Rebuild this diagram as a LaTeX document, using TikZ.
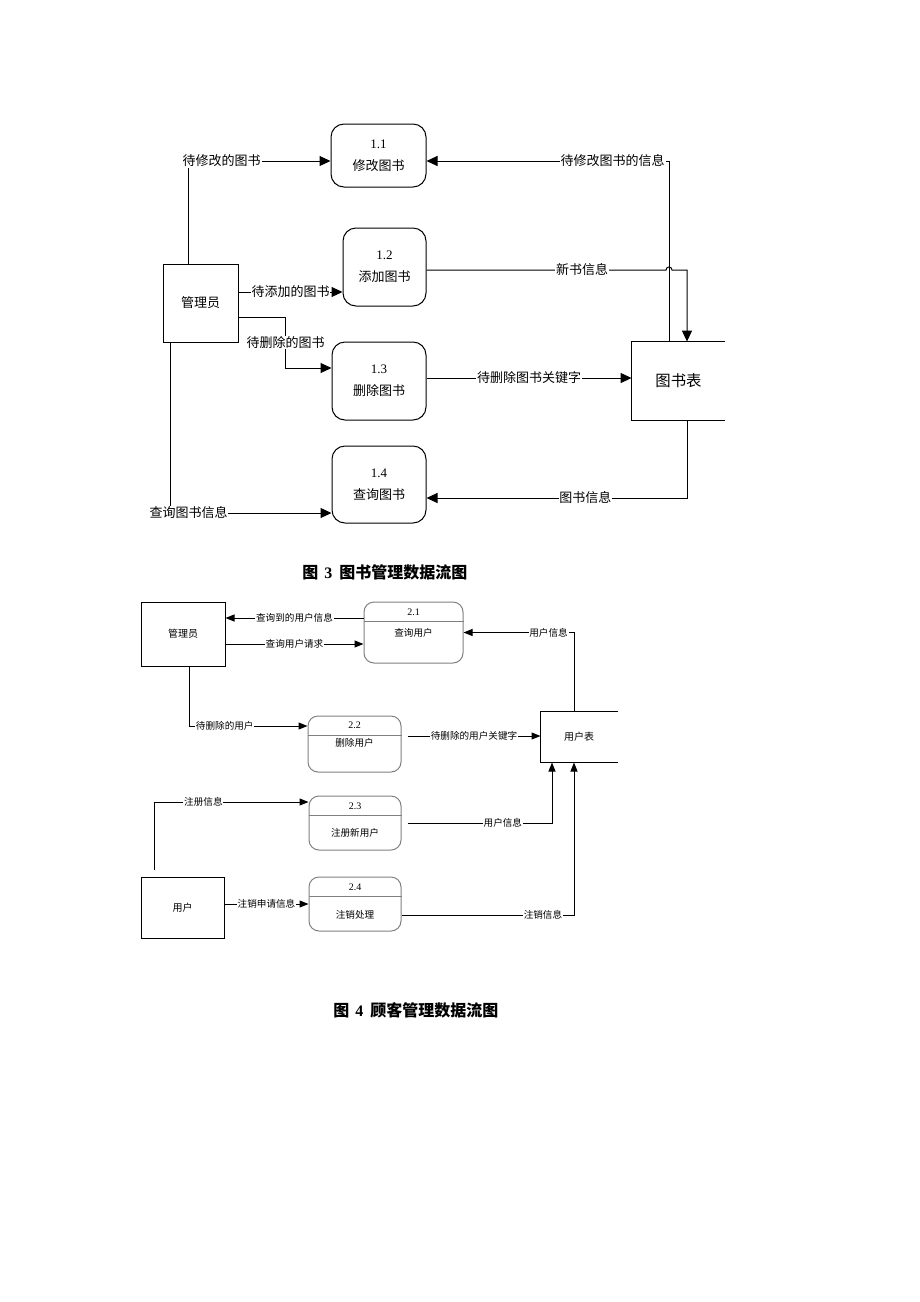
\documentclass[tikz,border=0pt]{standalone}
\usepackage{fontspec}
\setmainfont{Liberation Serif}
\newfontfamily\cjk{Noto Sans CJK SC}
\usetikzlibrary{arrows.meta,positioning,calc}

\begin{document}
\begin{tikzpicture}[x=0.5pt, y=-0.5pt,
    proc/.style={rectangle, draw, rounded corners=6.5pt, line width=0.5pt, minimum width=47pt, minimum height=39pt, inner sep=0pt, align=center, font=\cjk\fontsize{6.5}{11}\selectfont},
    entity/.style={rectangle, draw, line width=0.5pt, minimum width=37.5pt, minimum height=39pt, inner sep=0pt, font=\cjk\fontsize{6.5}{8}\selectfont},
    datastore/.style={rectangle, minimum width=46.5pt, minimum height=39pt, inner sep=0pt, font=\cjk\fontsize{7.7}{9}\selectfont},
    lbl/.style={fill=white, inner sep=0.4pt, font=\cjk\fontsize{6.5}{8}\selectfont},
    arrow/.style={line width=0.5pt, ->, >={Triangle[length=5.5pt, width=5pt]}},
    proctwo/.style={rectangle, draw=gray, rounded corners=5pt, line width=0.5pt, inner sep=0pt},
    entitytwo/.style={rectangle, draw, line width=0.5pt, inner sep=0pt, font=\cjk\fontsize{5}{6}\selectfont},
    numtxt/.style={inner sep=0pt, font=\fontsize{5}{6}\selectfont},
    boxtxt/.style={inner sep=0pt, font=\cjk\fontsize{4.8}{6}\selectfont},
    lbltwo/.style={fill=white, inner sep=0.4pt, font=\cjk\fontsize{4.8}{6}\selectfont},
    arrowtwo/.style={line width=0.5pt, ->, >={Triangle[length=4.5pt, width=3.5pt]}},
    figcap/.style={anchor=west, inner sep=0pt, font=\cjk\bfseries\fontsize{8}{10}\selectfont}]

    \useasboundingbox (0,0) rectangle (920,1302);

    % figure 3: books
    \node[proc, minimum width=47.5pt, minimum height=31.5pt] (p11) at (378.5,155.5) {{\rmfamily 1.1}\\修改图书};
    \node[proc, minimum width=41.5pt] (p12) at (384.5,267) {{\rmfamily 1.2}\\添加图书};
    \node[proc] (p13) at (379,381) {{\rmfamily 1.3}\\删除图书};
    \node[proc, minimum height=38.5pt] (p14) at (379,484.5) {{\rmfamily 1.4}\\查询图书};
    \node[entity] (admin) at (200.5,303) {管理员};
    \node[datastore] (books) at (678.5,381) {图书表};
    \draw[line width=0.5pt] (books.north east) -- (books.north west) -- (books.south west) -- (books.south east);
    \coordinate (hop) at (669,270);

    \draw[arrow] ([xshift=13pt]admin.north west) |- node[lbl, pos=0.617] {待修改的图书} ([yshift=-2.75pt]p11.west);
    \draw[arrow] ([yshift=5.5pt]admin.east) coordinate (a2) -- node[lbl] {待添加的图书} (a2 -| p12.west);
    \draw[arrow] ([yshift=-7pt]admin.east) -- ++(47,0) |- node[lbl, pos=0.25] {待删除的图书} ([yshift=6.5pt]p13.west);
    \draw[arrow] ([xshift=4pt]admin.south west) |- node[lbl, pos=0.556] {查询图书信息} ([yshift=-14.25pt]p14.west);
    \draw[arrow] ([xshift=-4.75pt]books.north) |- node[lbl, pos=0.616] {待修改图书的信息} ([yshift=-2.75pt]p11.east);
    \draw[arrow] ([yshift=-1.5pt]p12.east) -- node[lbl, pos=0.65] {新书信息} ([xshift=-1.5pt]hop)
        .. controls ([xshift=-1.5pt, yshift=2pt]hop) and ([xshift=1.5pt, yshift=2pt]hop) .. ([xshift=1.5pt]hop)
        -| ([xshift=4.25pt]books.north);
    \draw[arrow] ([yshift=1.5pt]p13.east) coordinate (d1) -- node[lbl] {待删除图书关键字} (d1 -| books.west);
    \draw[arrow] ([xshift=4.25pt]books.south) |- node[lbl, pos=0.695] {图书信息} ([yshift=-6.75pt]p14.east);

    \node[figcap] (cap3) at (302,572) {图\hspace{3pt}{\rmfamily 3}\hspace{3.5pt}图书管理数据流图};

    % figure 4: users
    \node[entitytwo, minimum width=42pt, minimum height=32pt] (admintwo) at (183,634) {管理员};
    \node[entitytwo, minimum width=41.5pt, minimum height=30.5pt] (user) at (182.5,907.5) {用户};
    \node[entitytwo, draw=none, minimum width=38pt, minimum height=25pt] (users) at (579,737) {用户表};
    \draw[line width=0.5pt] (users.north east) -- (users.north west) -- (users.south west) -- (users.south east);

    \node[proctwo, minimum width=49.5pt, minimum height=30.5pt] (q21) at (413.5,632.5) {};
    \draw[gray, line width=0.5pt] ([yshift=-10pt]q21.north west) -- ([yshift=-10pt]q21.north east);
    \node[numtxt] (n21) at ([yshift=-5.5pt]q21.north) {2.1};
    \node[boxtxt] (t21) at ([yshift=-15.5pt]q21.north) {查询用户};

    \node[proctwo, minimum width=46.5pt, minimum height=28pt] (q22) at (354.5,744) {};
    \draw[gray, line width=0.5pt] ([yshift=-10pt]q22.north west) -- ([yshift=-10pt]q22.north east);
    \node[numtxt] (n22) at ([yshift=-5pt]q22.north) {2.2};
    \node[boxtxt] (t22) at ([yshift=-13.5pt]q22.north) {删除用户};

    \node[proctwo, minimum width=46pt, minimum height=27pt] (q23) at (355,823) {};
    \draw[gray, line width=0.5pt] ([yshift=-10pt]q23.north west) -- ([yshift=-10pt]q23.north east);
    \node[numtxt] (n23) at ([yshift=-5.5pt]q23.north) {2.3};
    \node[boxtxt] (t23) at ([yshift=-18.5pt]q23.north) {注册新用户};

    \node[proctwo, minimum width=46pt, minimum height=27pt] (q24) at (355,904) {};
    \draw[gray, line width=0.5pt] ([yshift=-10pt]q24.north west) -- ([yshift=-10pt]q24.north east);
    \node[numtxt] (n24) at ([yshift=-5.5pt]q24.north) {2.4};
    \node[boxtxt] (t24) at ([yshift=-19pt]q24.north) {注销处理};

    \draw[arrowtwo] ([yshift=7.25pt]q21.west) coordinate (c1) -- node[lbltwo] {查询到的用户信息} (c1 -| admintwo.east);
    \draw[arrowtwo] ([yshift=-5pt]admintwo.east) coordinate (c2) -- node[lbltwo] {查询用户请求} (c2 -| q21.west);
    \draw[arrowtwo] ([xshift=-2.5pt]users.north) |- node[lbltwo, pos=0.615] {用户信息} (q21.east);
    \draw[arrowtwo] ([xshift=3pt]admintwo.south) |- node[lbltwo, pos=0.651] {待删除的用户} ([yshift=9pt]q22.west);
    \draw[arrowtwo] ([xshift=3pt, yshift=4pt]q22.east) coordinate (c3) -- node[lbltwo] {待删除的用户关键字} (c3 -| users.west);
    \draw[arrowtwo] ([xshift=-14.25pt, yshift=3.5pt]user.north) |- node[lbltwo, pos=0.66] {注册信息} ([yshift=10.5pt]q23.west);
    \draw[arrowtwo] ([xshift=3pt]q23.east) -| node[lbltwo, pos=0.33] {用户信息} ([xshift=-13.5pt]users.south);
    \draw[arrowtwo] ([yshift=1.75pt]user.east) coordinate (c4) -- node[lbltwo] {注销申请信息} (c4 -| q24.west);
    \draw[arrowtwo] ([yshift=-5.5pt]q24.east) -| node[lbltwo, pos=0.41] {注销信息} ([xshift=-2.5pt]users.south);

    \node[figcap] (cap4) at (333,1010) {图\hspace{3pt}{\rmfamily 4}\hspace{3.5pt}顾客管理数据流图};

\end{tikzpicture}
\end{document}
